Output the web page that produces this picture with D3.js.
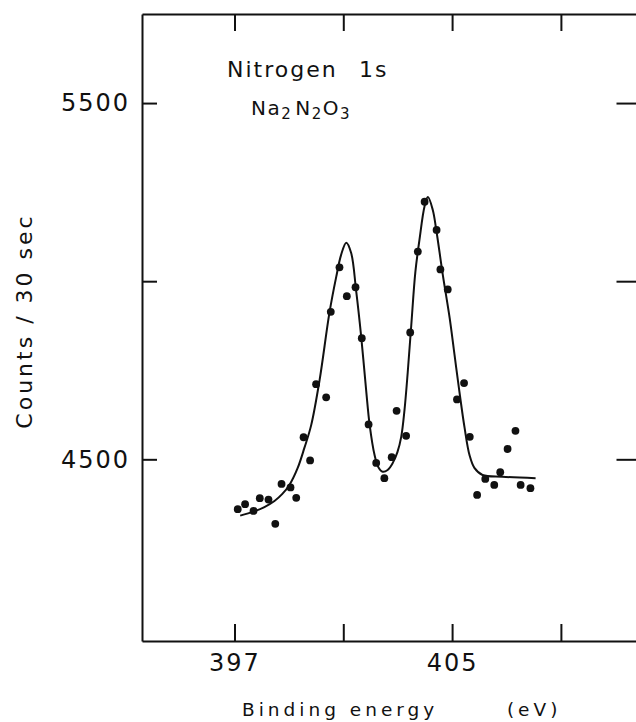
<!DOCTYPE html>
<html>
<head>
<meta charset="utf-8">
<script src="https://cdn.jsdelivr.net/npm/d3@7"></script>
<style>
  html, body { margin: 0; padding: 0; background: #fff; }
  svg { display: block; }
  text { font-family: "DejaVu Sans", sans-serif; fill: #111; }
</style>
</head>
<body>
<svg id="chart" width="636" height="722"></svg>
<script>
// Measured data points: binding energy (eV) and counts / 30 sec
const pointEnergy = [397.12, 397.39, 397.70, 397.93, 398.25, 398.50, 398.73, 399.06, 399.27, 399.54,
                     399.78, 400.00, 400.37, 400.54, 400.86, 401.13, 401.45, 401.68, 401.93, 402.21,
                     402.51, 402.78, 402.96, 403.31, 403.46, 403.74, 403.99, 404.43, 404.57, 404.84,
                     405.18, 405.44, 405.65, 405.92, 406.22, 406.55, 406.77, 407.04, 407.33, 407.52, 407.88];
const pointCounts = [4360, 4374, 4355, 4391, 4387, 4319, 4431, 4421, 4392, 4562,
                     4497, 4711, 4674, 4914, 5039, 4958, 4983, 4840, 4598, 4490,
                     4447, 4506, 4636, 4566, 4856, 5083, 5223, 5144, 5033, 4977,
                     4668, 4714, 4563, 4400, 4445, 4428, 4464, 4529, 4580, 4428, 4419];

// Fitted curve
const curveEnergy = [397.21, 397.70, 398.10, 398.47, 398.76, 399.02, 399.32, 399.57, 399.82, 400.13,
                     400.49, 400.74, 400.92, 401.11, 401.29, 401.47, 401.66, 401.84, 401.97, 402.15,
                     402.29, 402.45, 402.63, 402.82, 402.99, 403.13, 403.25, 403.37, 403.50, 403.65,
                     403.80, 403.99, 404.11, 404.29, 404.42, 404.66, 404.91, 405.09, 405.27, 405.46,
                     405.64, 405.82, 406.12, 406.85, 408.07];
const curveCounts = [4342, 4353, 4366, 4383, 4403, 4428, 4475, 4532, 4596, 4723,
                     4911, 5012, 5074, 5108, 5079, 4975, 4843, 4694, 4596, 4512,
                     4478, 4465, 4470, 4490, 4520, 4563, 4638, 4745, 4877, 5026,
                     5116, 5211, 5236, 5200, 5143, 5017, 4897, 4793, 4689, 4588,
                     4512, 4476, 4456, 4451, 4447];

// Ticks
const xTickValues = [397, 401, 405, 409];
const xTickLabels = ["397", "", "405", ""];
const yTickValues = [4500, 5000, 5500];
const yTickLabels = ["4500", "", "5500"];

const svg = d3.select("#chart");
const pLeft = 142, pRight = 642.5, pTop = 14, pBottom = 641;

const x = d3.scaleLinear().domain([393.6, 412]).range([pLeft, pRight]);
const y = d3.scaleLinear().domain([3990, 5750]).range([pBottom, pTop]);

function styleAxis(g) {
  g.selectAll("path.domain").attr("stroke", "#111").attr("stroke-width", 2);
  g.selectAll(".tick line").attr("stroke", "#111").attr("stroke-width", 2);
  g.selectAll(".tick text").attr("fill", "#111")
    .style("font-family", "'DejaVu Sans', sans-serif")
    .style("font-size", "24px").style("letter-spacing", "2px");
}

// Bottom axis
const gx = svg.append("g").attr("transform", `translate(0,${pBottom})`)
  .call(d3.axisBottom(x).tickValues(xTickValues)
    .tickFormat((d, i) => xTickLabels[i]).tickSizeInner(-17).tickSizeOuter(0).tickPadding(13));
styleAxis(gx);

// Top axis
const gxt = svg.append("g").attr("transform", `translate(0,${pTop})`)
  .call(d3.axisTop(x).tickValues(xTickValues).tickFormat("").tickSizeInner(-17).tickSizeOuter(0));
styleAxis(gxt);

// Left axis
const gy = svg.append("g").attr("transform", `translate(${pLeft},0)`)
  .call(d3.axisLeft(y).tickValues(yTickValues)
    .tickFormat((d, i) => yTickLabels[i]).tickSizeInner(-15).tickSizeOuter(0).tickPadding(12));
styleAxis(gy);

// Right axis
const gyr = svg.append("g").attr("transform", `translate(${pRight},0)`)
  .call(d3.axisRight(y).tickValues(yTickValues).tickFormat("").tickSizeInner(-26).tickSizeOuter(0));
styleAxis(gyr);

// Fitted curve
const curveData = curveEnergy.map((e, i) => [e, curveCounts[i]]);
svg.append("path")
  .datum(curveData)
  .attr("fill", "none")
  .attr("stroke", "#111")
  .attr("stroke-width", 2)
  .attr("d", d3.line().x(d => x(d[0])).y(d => y(d[1])).curve(d3.curveCatmullRom.alpha(0.5)));

// Data points
const pts = pointEnergy.map((e, i) => [e, pointCounts[i]]);
svg.append("g").selectAll("circle").data(pts).join("circle")
  .attr("cx", d => x(d[0])).attr("cy", d => y(d[1])).attr("r", 3.9).attr("fill", "#111");

// Axis titles
svg.append("text")
  .attr("x", 242).attr("y", 716)
  .style("font-size", "18.5px").style("letter-spacing", "4px")
  .text("Binding energy")
  .append("tspan").attr("x", 497).text(" (eV)");

svg.append("text")
  .attr("transform", "translate(32,321) rotate(-90)")
  .attr("text-anchor", "middle")
  .style("font-size", "22px").style("letter-spacing", "3px")
  .text("Counts / 30 sec");

// Annotations
svg.append("text")
  .attr("x", 227).attr("y", 77)
  .style("font-size", "22px").style("letter-spacing", "2px")
  .text("Nitrogen")
  .append("tspan").attr("x", 350).text(" 1s");

const formula = svg.append("text")
  .attr("x", 251).attr("y", 115)
  .style("font-size", "20px").style("letter-spacing", "1.5px");
formula.append("tspan").text("Na");
formula.append("tspan").attr("dy", 4).style("font-size", "15px").text("2");
formula.append("tspan").attr("dy", -4).attr("dx", 3).text("N");
formula.append("tspan").attr("dy", 4).style("font-size", "15px").text("2");
formula.append("tspan").attr("dy", -4).text("O");
formula.append("tspan").attr("dy", 4).style("font-size", "15px").text("3");
</script>
</body>
</html>
